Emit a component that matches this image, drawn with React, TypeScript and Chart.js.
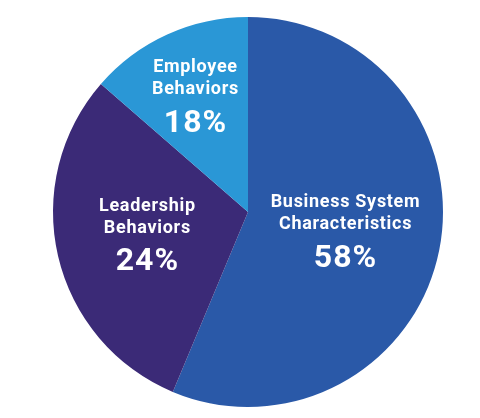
import React, { useEffect, useRef } from "react";
import { Chart, registerables } from "chart.js";

Chart.register(...registerables);

const categories = ["Business System Characteristics", "Leadership Behaviors", "Employee Behaviors"];
const nameLines = [["Business System", "Characteristics"], ["Leadership", "Behaviors"], ["Employee", "Behaviors"]];
const sliceShares = [56.3, 30.1, 13.6];
const shareLabels = ["58%", "24%", "18%"];
const sliceColors = ["#2a59a8", "#3b2a77", "#2a97d6"];
const labelRadiusFraction = [0.51, 0.53, 0.65];

const labelPlugin = {
  id: "sliceLabels",
  afterDatasetsDraw(chart: any) {
    const ctx = chart.ctx;
    const meta = chart.getDatasetMeta(0);
    meta.data.forEach((arc: any, i: number) => {
      const { x, y, startAngle, endAngle, outerRadius } = arc.getProps(["x", "y", "startAngle", "endAngle", "outerRadius"], true);
      const mid = (startAngle + endAngle) / 2;
      const r = outerRadius * labelRadiusFraction[i];
      const cx = x + Math.cos(mid) * r;
      const cy = y + Math.sin(mid) * r;
      ctx.save();
      ctx.fillStyle = "#ffffff";
      ctx.textAlign = "center";
      ctx.textBaseline = "middle";
      ctx.font = "bold 18px Roboto";
      (ctx as any).letterSpacing = "0.7px";
      ctx.fillText(nameLines[i][0], cx, cy - 29);
      ctx.fillText(nameLines[i][1], cx, cy - 7);
      ctx.font = "bold 32px Roboto";
      (ctx as any).letterSpacing = "1px";
      ctx.fillText(shareLabels[i], cx, cy + 27);
      ctx.restore();
    });
  },
};

export default function App() {
  const ref = useRef<HTMLCanvasElement>(null);
  useEffect(() => {
    document.body.style.margin = "0";
    const chart = new Chart(ref.current!, {
      type: "pie",
      data: {
        labels: categories,
        datasets: [{ data: sliceShares, backgroundColor: sliceColors, borderWidth: 0 }],
      },
      options: {
        animation: false,
        responsive: false,
        layout: { padding: { top: 17, bottom: 11, left: 53, right: 37 } },
        plugins: { legend: { display: false }, tooltip: { enabled: false } },
      },
      plugins: [labelPlugin],
    });
    return () => chart.destroy();
  }, []);
  return <canvas ref={ref} width={480} height={418} style={{ display: "block" }} />;
}
